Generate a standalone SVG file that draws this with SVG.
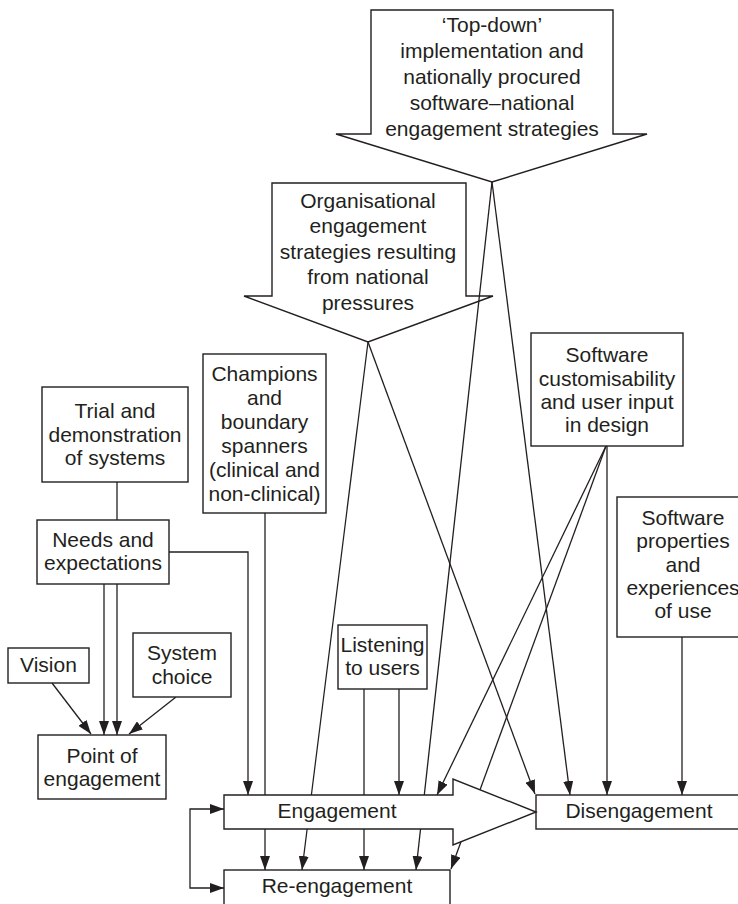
<svg xmlns="http://www.w3.org/2000/svg" width="738" height="904" viewBox="0 0 738 904">
<defs>
<marker id="ah" markerUnits="userSpaceOnUse" markerWidth="14" markerHeight="10" refX="14" refY="5" orient="auto">
<path d="M0,0 L14,5 L0,10 z" fill="#231f20"/>
</marker>
<style>
.n{fill:#fff;stroke:#231f20;stroke-width:1.4}
.c{fill:none;stroke:#231f20;stroke-width:1.3}
.a{marker-end:url(#ah)}
text{font-family:"Liberation Sans",Arial,sans-serif;font-size:21px;fill:#231f20;text-anchor:middle}
</style>
</defs>
<rect width="738" height="904" fill="#fff"/>
<g id="topdown">
<polygon class="n" points="371,10 613,10 613,134 647,134 492,182 336,134 371,134"/>
<text x="492" y="32">‘Top-down’</text>
<text x="492" y="58">implementation and</text>
<text x="492" y="84">nationally procured</text>
<text x="492" y="110">software–national</text>
<text x="492" y="136">engagement strategies</text>
</g>
<g id="organisational">
<polygon class="n" points="272,183 466,183 466,296 493,296 368,342 244,296 272,296"/>
<text x="368" y="208">Organisational</text>
<text x="368" y="233">engagement</text>
<text x="368" y="259">strategies resulting</text>
<text x="368" y="284">from national</text>
<text x="368" y="310">pressures</text>
</g>
<g id="connectors">
<line class="c" x1="117" y1="482" x2="117" y2="520"/>
<polyline class="c a" points="169,552 248,552 248,795"/>
<line class="c a" x1="265" y1="513" x2="265" y2="870"/>
<line class="c a" x1="104" y1="584" x2="104" y2="735"/>
<line class="c a" x1="117" y1="584" x2="117" y2="735"/>
<line class="c a" x1="52" y1="683" x2="91" y2="734"/>
<line class="c a" x1="176" y1="697" x2="129" y2="734"/>
<line class="c a" x1="364" y1="689" x2="364" y2="870"/>
<line class="c a" x1="399" y1="689" x2="399" y2="795"/>
<line class="c a" x1="368" y1="342" x2="302" y2="870"/>
<line class="c a" x1="368" y1="342" x2="535" y2="794"/>
<line class="c a" x1="492" y1="182" x2="416" y2="870"/>
<line class="c a" x1="492" y1="182" x2="570" y2="795"/>
<line class="c a" x1="606" y1="446" x2="437" y2="795"/>
<line class="c a" x1="606" y1="446" x2="451" y2="869"/>
<line class="c a" x1="607" y1="446" x2="607" y2="795"/>
<line class="c a" x1="682" y1="637" x2="682" y2="795"/>
<polyline class="c a" points="190,848 190,809 224,809"/>
<polyline class="c a" points="190,848 190,888 224,888"/>
</g>
<g id="trial">
<rect class="n" x="42" y="387" width="146" height="95"/>
<text x="115" y="418">Trial and</text>
<text x="115" y="442">demonstration</text>
<text x="115" y="465">of systems</text>
</g>
<g id="champions">
<rect class="n" x="203" y="354" width="123" height="159"/>
<text x="264.5" y="381">Champions</text>
<text x="264.5" y="405">and</text>
<text x="264.5" y="429">boundary</text>
<text x="264.5" y="453">spanners</text>
<text x="264.5" y="477">(clinical and</text>
<text x="264.5" y="501">non-clinical)</text>
</g>
<g id="needs">
<rect class="n" x="37" y="520" width="132" height="64"/>
<text x="103" y="547">Needs and</text>
<text x="103" y="570">expectations</text>
</g>
<g id="vision">
<rect class="n" x="8" y="648" width="81" height="35"/>
<text x="48.5" y="672">Vision</text>
</g>
<g id="systemchoice">
<rect class="n" x="133" y="633" width="98" height="64"/>
<text x="182" y="660">System</text>
<text x="182" y="684">choice</text>
</g>
<g id="point">
<rect class="n" x="38" y="735" width="128" height="64"/>
<text x="102" y="763">Point of</text>
<text x="102" y="786">engagement</text>
</g>
<g id="listening">
<rect class="n" x="338" y="625" width="89" height="64"/>
<text x="382.5" y="652">Listening</text>
<text x="382.5" y="675">to users</text>
</g>
<g id="customisability">
<rect class="n" x="531" y="333" width="152" height="113"/>
<text x="607" y="362">Software</text>
<text x="607" y="386">customisability</text>
<text x="607" y="409">and user input</text>
<text x="607" y="432">in design</text>
</g>
<g id="properties">
<rect class="n" x="617" y="497" width="130" height="140"/>
<text x="683" y="525">Software</text>
<text x="683" y="548">properties</text>
<text x="683" y="572">and</text>
<text x="683" y="595">experiences</text>
<text x="683" y="618">of use</text>
</g>
<g id="disengagement">
<rect class="n" x="536" y="795" width="210" height="34"/>
<text x="639" y="818">Disengagement</text>
</g>
<g id="reengagement">
<rect class="n" x="224" y="870" width="226" height="40"/>
<text x="337" y="893">Re-engagement</text>
</g>
<g id="engagement">
<polygon class="n" points="224,795 453,795 453,779 536,812 453,845 453,829 224,829"/>
<text x="337" y="818">Engagement</text>
</g>
</svg>
